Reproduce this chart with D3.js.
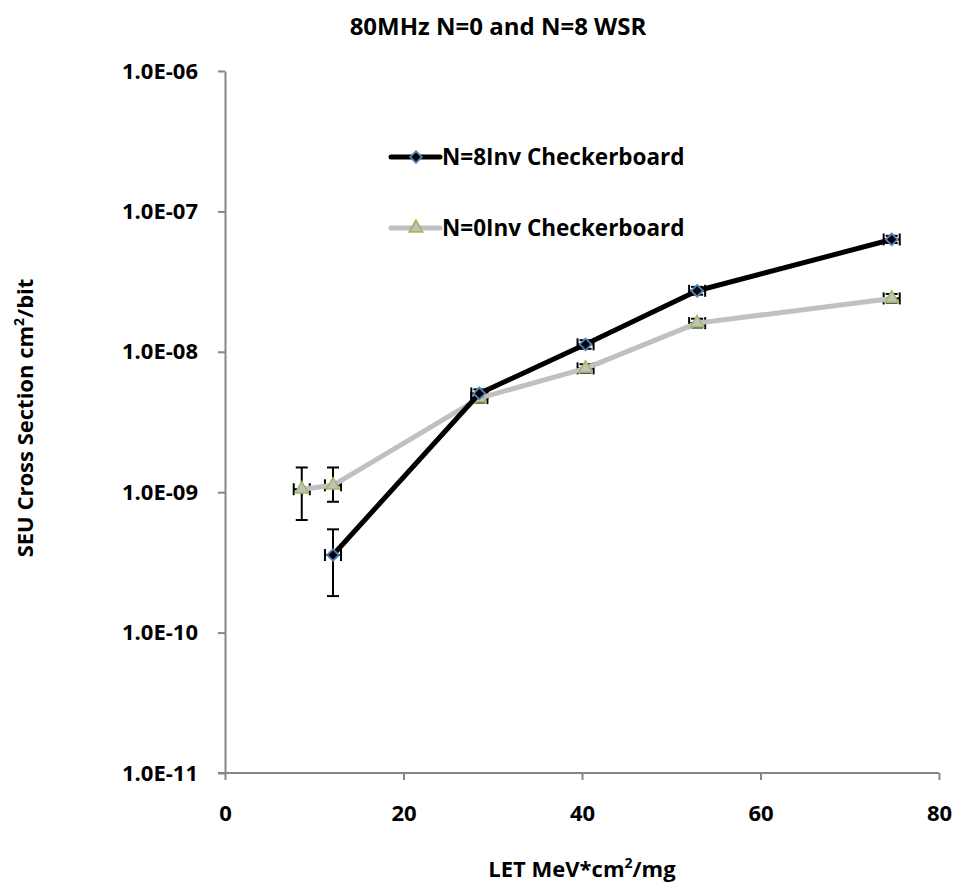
<!DOCTYPE html>
<html>
<head>
<meta charset="utf-8">
<script src="https://cdn.jsdelivr.net/npm/d3@7/dist/d3.min.js"></script>
<style>
  html, body { margin: 0; padding: 0; background: #fff; }
  svg { display: block; }
  text { font-family: "Open Sans", "Noto Sans", sans-serif; font-weight: 700; fill: #000; }
</style>
</head>
<body>
<svg id="chart" width="956" height="886"></svg>
<script>
// LET values (MeV*cm^2/mg) for each run
const letN8 = [12.1, 28.5, 40.4, 52.9, 74.7];
const letN0 = [8.6, 12.1, 28.5, 40.4, 52.9, 74.7];

// SEU cross sections (cm^2/bit)
const sigmaN8 = [3.57e-10, 5.05e-9, 1.13e-8, 2.72e-8, 6.31e-8];
const sigmaN0 = [1.05e-9, 1.12e-9, 4.68e-9, 7.62e-9, 1.60e-8, 2.40e-8];

// Error bar limits on the cross section
const lowN8 = [1.82e-10, 4.7e-9, 1.05e-8, 2.55e-8, 5.95e-8];
const highN8 = [5.44e-10, 5.4e-9, 1.21e-8, 2.9e-8, 6.7e-8];
const lowN0 = [6.34e-10, 8.55e-10, 4.35e-9, 7.1e-9, 1.49e-8, 2.24e-8];
const highN0 = [1.50e-9, 1.50e-9, 5.0e-9, 8.15e-9, 1.72e-8, 2.58e-8];

// Uncertainty on LET (±)
const letErr = 0.9;

const seriesNames = ["N=8Inv Checkerboard", "N=0Inv Checkerboard"];
const xTicks = [0, 20, 40, 60, 80];
const yTicks = [1e-6, 1e-7, 1e-8, 1e-9, 1e-10, 1e-11];

const svg = d3.select("#chart");
const x = d3.scaleLinear().domain([0, 80]).range([225, 939]);
const y = d3.scaleLog().domain([1e-11, 1e-6]).range([773, 71]);

const axisColor = "#868686";
const fontStack = "'Open Sans', 'Noto Sans', sans-serif";
const fmtY = v => {
  const e = Math.round(Math.log10(v));
  return "1.0E-" + String(-e).padStart(2, "0");
};

// Axes
const gx = svg.append("g").attr("transform", `translate(0,${y(1e-11)})`)
  .call(d3.axisBottom(x).tickValues(xTicks).tickSize(7).tickSizeOuter(0).tickPadding(25));
const gy = svg.append("g").attr("transform", `translate(${x(0)},0)`)
  .call(d3.axisLeft(y).tickValues(yTicks).tickFormat(fmtY).tickSize(7).tickSizeOuter(0).tickPadding(20));

[gx, gy].forEach(g => {
  g.select(".domain").attr("stroke", axisColor).attr("stroke-width", 2);
  g.selectAll(".tick line").attr("stroke", axisColor).attr("stroke-width", 2);
  g.selectAll(".tick text").style("font-size", "22px").style("font-family", fontStack)
    .style("font-weight", "700").attr("fill", "#000");
});
// extend x axis slightly left of the y axis
gx.select(".domain").attr("d", `M${x(0) - 7},0H${x(80)}`);

// Title
svg.append("text").attr("x", 498).attr("y", 35).attr("text-anchor", "middle")
  .style("font-size", "24px").text("80MHz N=0 and N=8 WSR");

// X axis label
const xl = svg.append("text").attr("x", 582).attr("y", 877).attr("text-anchor", "middle").style("font-size", "22px");
xl.append("tspan").text("LET MeV*cm");
xl.append("tspan").attr("dy", -9).style("font-size", "14px").text("2");
xl.append("tspan").attr("dy", 9).text("/mg");

// Y axis label
const yl = svg.append("text").attr("transform", "translate(33,418) rotate(-90)").attr("text-anchor", "middle").style("font-size", "22px");
yl.append("tspan").text("SEU Cross Section cm");
yl.append("tspan").attr("dy", -9).style("font-size", "14px").text("2");
yl.append("tspan").attr("dy", 9).text("/bit");

const line = d3.line().x(d => x(d[0])).y(d => y(d[1]));

const n8 = letN8.map((l, i) => ({ x: l, v: sigmaN8[i], lo: lowN8[i], hi: highN8[i] }));
const n0 = letN0.map((l, i) => ({ x: l, v: sigmaN0[i], lo: lowN0[i], hi: highN0[i] }));

function errorBars(data) {
  const g = svg.append("g").attr("stroke", "#000").attr("stroke-width", 2).attr("fill", "none");
  data.forEach(d => {
    const cx = x(d.x), cy = y(d.v);
    // vertical
    g.append("line").attr("x1", cx).attr("x2", cx).attr("y1", y(d.hi)).attr("y2", y(d.lo));
    g.append("line").attr("x1", cx - 6).attr("x2", cx + 6).attr("y1", y(d.hi)).attr("y2", y(d.hi));
    g.append("line").attr("x1", cx - 6).attr("x2", cx + 6).attr("y1", y(d.lo)).attr("y2", y(d.lo));
    // horizontal
    const xl0 = x(d.x - letErr), xr0 = x(d.x + letErr);
    g.append("line").attr("x1", xl0).attr("x2", xr0).attr("y1", cy).attr("y2", cy);
    g.append("line").attr("x1", xl0).attr("x2", xl0).attr("y1", cy - 6).attr("y2", cy + 6);
    g.append("line").attr("x1", xr0).attr("x2", xr0).attr("y1", cy - 6).attr("y2", cy + 6);
  });
}

errorBars(n0);
errorBars(n8);

const grayColor = "#c0c0c0";
const triSym = d3.symbol().type(d3.symbolTriangle).size(75);
const diaSym = d3.symbol().type(d3.symbolSquare).size(68);

// N=0 series
svg.append("path").datum(n0.map(d => [d.x, d.v])).attr("d", line)
  .attr("fill", "none").attr("stroke", grayColor).attr("stroke-width", 5).attr("stroke-linejoin", "round");
svg.append("g").selectAll("path").data(n0).join("path")
  .attr("d", triSym).attr("transform", d => `translate(${x(d.x)},${y(d.v)})`)
  .attr("fill", grayColor).attr("stroke", "#9bbb59").attr("stroke-width", 1.5);

// N=8 series
svg.append("path").datum(n8.map(d => [d.x, d.v])).attr("d", line)
  .attr("fill", "none").attr("stroke", "#000").attr("stroke-width", 5).attr("stroke-linejoin", "round");
svg.append("g").selectAll("path").data(n8).join("path")
  .attr("d", diaSym).attr("transform", d => `translate(${x(d.x)},${y(d.v)}) rotate(45)`)
  .attr("fill", "#000").attr("stroke", "#4f81bd").attr("stroke-width", 1.8);

// Legend
const legend = [
  { name: seriesNames[0], color: "#000", sym: diaSym, rot: 45, fill: "#000", edge: "#4f81bd", y: 157 },
  { name: seriesNames[1], color: grayColor, sym: triSym, rot: 0, fill: grayColor, edge: "#9bbb59", y: 228 }
];
legend.forEach(l => {
  svg.append("line").attr("x1", 391).attr("x2", 440).attr("y1", l.y).attr("y2", l.y)
    .attr("stroke", l.color).attr("stroke-width", 5).attr("stroke-linecap", "round");
  svg.append("path").attr("d", l.sym).attr("transform", `translate(416,${l.y}) rotate(${l.rot})`)
    .attr("fill", l.fill).attr("stroke", l.edge).attr("stroke-width", 1.8);
  svg.append("text").attr("x", 442).attr("y", l.y + 8).style("font-size", "22.5px").text(l.name);
});
</script>
</body>
</html>
